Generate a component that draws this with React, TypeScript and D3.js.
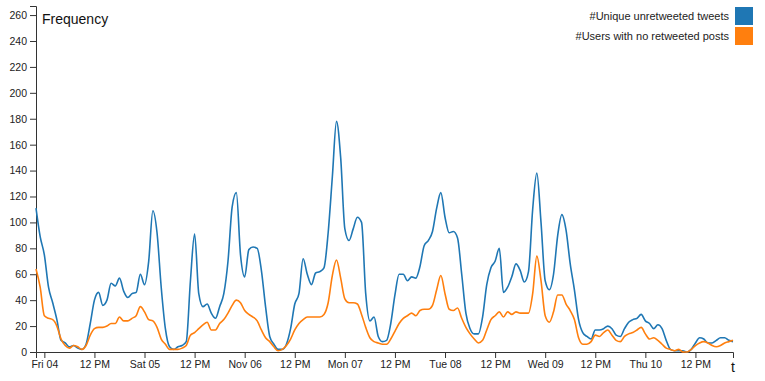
import React, { useEffect, useRef } from 'react';
import * as d3 from 'd3';

// hourly counts, first reading at Thu Nov 03 2016 22:00
const startTime = new Date(2016, 10, 3, 22);

const uniqueTweets = [
  111, 89, 75, 50, 38, 25, 9, 7, 4, 5,
  3, 2, 6, 22, 40, 46, 36, 40, 53, 51,
  57, 47, 42, 45, 46, 60, 52, 70, 109, 92,
  50, 18, 4, 2, 4, 5, 8, 55, 91, 45,
  35, 37, 30, 26, 35, 45, 70, 112, 123, 75,
  58, 79, 81, 80, 63, 35, 12, 6, 2, 2,
  6, 18, 37, 45, 72, 60, 52, 61, 62, 65,
  92, 135, 178, 150, 95, 86, 95, 104, 100, 45,
  24, 27, 12, 8, 9, 22, 44, 60, 60, 55,
  58, 57, 66, 82, 86, 93, 111, 123, 104, 92,
  93, 88, 60, 30, 18, 14, 14, 27, 52, 65,
  70, 80, 46, 50, 58, 68, 63, 54, 62, 110,
  138, 100, 55, 48, 60, 90, 106, 94, 68, 48,
  25, 15, 12, 10, 17, 17, 18, 20, 18, 13,
  12, 18, 23, 25, 26, 29, 24, 22, 18, 21,
  18, 9, 2, 1, 1, 1, 0, 2, 7, 11,
  10, 7, 7, 9, 11, 11, 9, 8,
];

const usersNoRetweets = [
  64, 50, 28, 26, 25, 20, 10, 5, 3, 5,
  4, 2, 5, 13, 18, 19, 19, 20, 22, 22,
  27, 24, 24, 26, 28, 35, 31, 25, 24, 19,
  10, 6, 2, 2, 2, 3, 5, 13, 15, 18,
  21, 23, 17, 17, 22, 25, 30, 36, 40, 38,
  32, 29, 27, 24, 17, 11, 8, 4, 1, 2,
  5, 10, 17, 22, 25, 27, 27, 27, 27, 29,
  38, 59, 71, 57, 41, 38, 38, 37, 29, 19,
  11, 8, 7, 6, 6, 10, 16, 22, 26, 28,
  30, 28, 32, 33, 33, 36, 48, 59, 45, 33,
  32, 34, 26, 19, 14, 10, 7, 9, 17, 25,
  28, 31, 27, 31, 29, 31, 30, 30, 30, 45,
  74, 55, 28, 23, 31, 44, 44, 37, 32, 25,
  11, 6, 6, 8, 13, 12, 15, 17, 13, 9,
  8, 12, 14, 15, 17, 19, 14, 10, 11, 9,
  6, 3, 2, 1, 2, 0, 0, 2, 5, 7,
  8, 7, 5, 4, 5, 7, 8, 9,
];

const seriesNames = ['#Unique unretweeted tweets', '#Users with no retweeted posts'];
const seriesColors = ['#1f77b4', '#ff7f0e'];

const W = 765;
const H = 381;

const App = () => {
  const svgRef = useRef<SVGSVGElement>(null);

  useEffect(() => {
    const margin = { top: 6, right: 32, bottom: 29, left: 36 };
    const width = W - margin.left - margin.right;
    const height = H - margin.top - margin.bottom;

    const times = uniqueTweets.map((_, i) => d3.timeHour.offset(startTime, i));
    const series = [uniqueTweets, usersNoRetweets];

    const x = d3.scaleTime()
      .domain(d3.extent(times) as [Date, Date])
      .range([0, width]);

    const y = d3.scaleLinear()
      .domain([0, (d3.max(uniqueTweets) as number) * 1.5])
      .range([height, 0]);

    const svg = d3.select(svgRef.current);
    svg.selectAll('*').remove();

    const g = svg.append('g')
      .attr('transform', `translate(${margin.left},${margin.top})`);

    // axes
    const xAxis = g.append('g')
      .attr('transform', `translate(0,${height})`)
      .call(d3.axisBottom(x));
    const yAxis = g.append('g')
      .call(d3.axisLeft(y));

    [xAxis, yAxis].forEach(a => {
      a.selectAll('text')
        .attr('font-family', '"Liberation Sans", Arial, sans-serif')
        .attr('font-size', 10.5)
        .attr('fill', '#222');
      a.selectAll('path, line').attr('stroke', '#333');
    });

    g.append('text')
      .attr('x', 6)
      .attr('y', 18)
      .attr('font-family', '"Liberation Sans", Arial, sans-serif')
      .attr('font-size', 14)
      .attr('fill', '#111')
      .text('Frequency');

    g.append('text')
      .attr('x', width)
      .attr('y', height + 20)
      .attr('text-anchor', 'middle')
      .attr('font-family', '"Liberation Sans", Arial, sans-serif')
      .attr('font-size', 14)
      .attr('fill', '#111')
      .text('t');

    // lines
    const line = d3.line<number>()
      .x((_, i) => x(times[i]))
      .y(d => y(d))
      .curve(d3.curveMonotoneX);

    series.forEach((s, k) => {
      g.append('path')
        .datum(s)
        .attr('fill', 'none')
        .attr('stroke', seriesColors[k])
        .attr('stroke-width', 1.6)
        .attr('d', line);
    });

    // legend
    const legend = svg.append('g');
    seriesNames.forEach((name, k) => {
      const row = legend.append('g')
        .attr('transform', `translate(${W - 30},${7 + k * 20})`);
      row.append('rect')
        .attr('width', 18)
        .attr('height', 18)
        .attr('fill', seriesColors[k]);
      row.append('text')
        .attr('x', -6)
        .attr('y', 9)
        .attr('dy', '0.35em')
        .attr('text-anchor', 'end')
        .attr('font-family', '"Liberation Sans", Arial, sans-serif')
        .attr('font-size', 11)
        .attr('fill', '#222')
        .text(name);
    });
  }, []);

  return (
    <svg
      ref={svgRef}
      width={W}
      height={H}
      style={{ position: 'absolute', left: 0, top: 0, background: '#fff' }}
    />
  );
};

export default App;
